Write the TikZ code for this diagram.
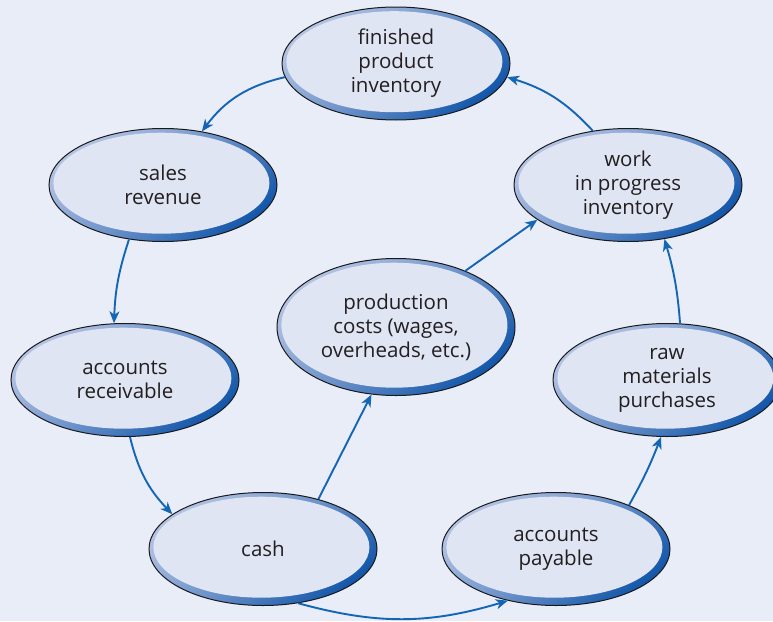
\documentclass[tikz,border=0pt]{standalone}
\usepackage{fontspec}
\setmainfont{Open Sans}
\usetikzlibrary{shapes.geometric,arrows.meta,calc}
\definecolor{bg}{HTML}{E9EDF8}
\definecolor{innerfill}{HTML}{DFE5F3}
\definecolor{rimlight}{HTML}{B4C3E4}
\definecolor{rimdark}{HTML}{1457AA}
\definecolor{arrowblue}{HTML}{1565B5}
\definecolor{txt}{HTML}{231F20}
\tikzset{
  ell/.style={ellipse, draw=black!90, line width=1pt, inner sep=0pt,
    minimum width=228pt, minimum height=113pt, align=center, text=txt,
    font=\fontsize{20.5}{24}\selectfont,
    path picture={
      \shade[top color=rimlight, bottom color=rimdark, middle color=rimlight!55!rimdark, shading angle=40]
        (path picture bounding box.south west) rectangle (path picture bounding box.north east);
      \path let \p1=($(path picture bounding box.north east)-(path picture bounding box.center)$) in
        [fill=innerfill] ([xshift=-1.6pt,yshift=1.8pt]path picture bounding box.center)
        ellipse [x radius=\x1-6pt, y radius=\y1-6pt];
    }},
  flow/.style={draw=arrowblue, line width=1.9pt, -{Stealth[length=12pt,width=10pt,inset=3.5pt]}}
}
\begin{document}
\begin{tikzpicture}[x=1pt,y=-1pt]
\useasboundingbox (0,0) rectangle (773,621);
\fill[bg] (0,0) rectangle (773,621);
\node[ell] (fin) at (396,63.5) {finished\\product\\inventory};
\node[ell] (sales) at (163,185) {sales\\revenue};
\node[ell] (wip) at (628,185) {work\\in progress\\inventory};
\node[ell, minimum width=238pt, minimum height=137pt] (prod) at (396,327) {production\\costs (wages,\\overheads, etc.)};
\node[ell] (recv) at (125,380) {accounts\\receivable};
\node[ell] (raw) at (667,380) {raw\\materials\\purchases};
\node[ell] (cash) at (263,549) {cash};
\node[ell] (pay) at (556,549) {accounts\\payable};
\draw[flow] (fin.187) to[bend right=20] (sales.54);
\draw[flow] (sales.238) to[bend right=8] (recv.101);
\draw[flow] (recv.275) to[bend right=15] (cash.159);
\draw[flow] (cash.42) -- (prod.250);
\draw[flow] (cash.303) to[bend right=16] (pay.227);
\draw[flow] (pay.31) to[bend right=4] (raw.264);
\draw[flow] (raw.77) to[bend right=6] (wip.304);
\draw[flow] (prod.39.5) -- (wip.201);
\draw[flow] (wip.123) to[bend right=15] (fin.353);
\end{tikzpicture}
\end{document}
